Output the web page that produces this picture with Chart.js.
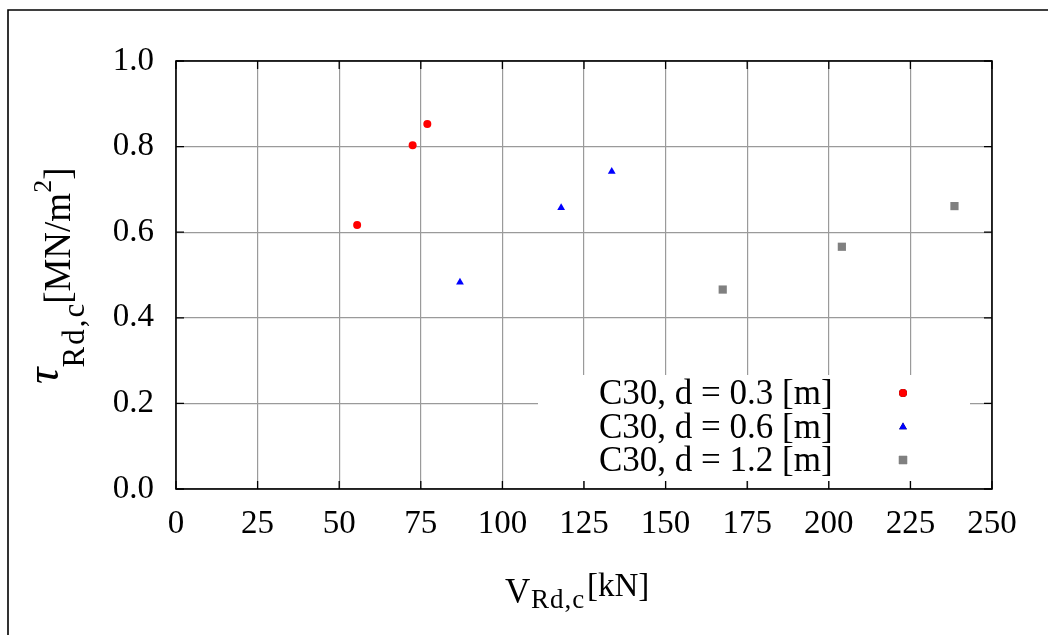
<!DOCTYPE html>
<html>
<head>
<meta charset="utf-8">
<script src="https://cdn.jsdelivr.net/npm/chart.js@4.4.0/dist/chart.umd.min.js"></script>
<style>
  html, body { margin: 0; padding: 0; background: #fff; }
  #wrap { width: 1048px; height: 635px; }
</style>
</head>
<body>
<div id="wrap"><canvas id="grafico"></canvas></div>
<script>
// dados
const serieRotulos = ['C30, d = 0.3 [m]', 'C30, d = 0.6 [m]', 'C30, d = 1.2 [m]'];
const vD03 = [55.5, 72.5, 77];
const tD03 = [0.617, 0.803, 0.853];
const vD06 = [87, 118, 133.5];
const tD06 = [0.483, 0.657, 0.742];
const vD12 = [167.5, 204, 238.5];
const tD12 = [0.466, 0.566, 0.661];
const xTicks = [0, 25, 50, 75, 100, 125, 150, 175, 200, 225, 250];
const yTicks = [0.0, 0.2, 0.4, 0.6, 0.8, 1.0];

const FONTE = '"Liberation Serif", "Times New Roman", serif';

function pontos(xs, ys) {
    return xs.map((x, i) => ({ x: x, y: ys[i] }));
}

const estilos = [
    { cor: '#ff0000', forma: 'circle', raio: 4 },
    { cor: '#0000ff', forma: 'triangle', raio: 4.5 },
    { cor: '#808080', forma: 'rect', raio: 5.8 }
];

// ------------------------------------------------------------
//  plugin: moldura, marcas, legenda e títulos dos eixos
// ------------------------------------------------------------
const extras = {
    id: 'extras',
    afterDraw(chart) {
        const ctx = chart.ctx;
        const a = chart.chartArea;
        const sx = chart.scales.x, sy = chart.scales.y;

        // legenda (caixa branca sobre a grade)
        ctx.save();
        ctx.fillStyle = '#fff';
        ctx.fillRect(538, 375, 432, 106);
        ctx.fillStyle = '#000';
        ctx.font = '35px ' + FONTE;
        ctx.textAlign = 'left';
        ctx.textBaseline = 'middle';
        const linhas = [393, 427, 460];
        chart.data.datasets.forEach((ds, i) => {
            ctx.fillText(ds.label, 599, linhas[i] + 2);
            Chart.helpers.drawPoint(ctx, {
                pointStyle: ds.pointStyle, radius: ds.pointRadius, borderWidth: 0
            }, 903, linhas[i]);
            ctx.fillStyle = ds.backgroundColor;
            ctx.fill();
            ctx.fillStyle = '#000';
        });
        ctx.restore();

        // marcas internas nos quatro lados
        ctx.save();
        ctx.strokeStyle = '#000';
        ctx.lineWidth = 1.3;
        ctx.beginPath();
        xTicks.forEach(v => {
            const px = sx.getPixelForValue(v);
            ctx.moveTo(px, a.bottom); ctx.lineTo(px, a.bottom - 8);
            ctx.moveTo(px, a.top); ctx.lineTo(px, a.top + 8);
        });
        yTicks.forEach(v => {
            const py = sy.getPixelForValue(v);
            ctx.moveTo(a.left, py); ctx.lineTo(a.left + 8, py);
            ctx.moveTo(a.right, py); ctx.lineTo(a.right - 8, py);
        });
        ctx.stroke();
        ctx.lineWidth = 1.6;
        ctx.strokeRect(a.left, a.top, a.right - a.left, a.bottom - a.top);

        // moldura externa
        ctx.beginPath();
        ctx.moveTo(8, 635); ctx.lineTo(8, 10); ctx.lineTo(1048, 10);
        ctx.stroke();
        ctx.restore();

        // título eixo x: V_Rd,c[kN]
        ctx.save();
        ctx.fillStyle = '#000';
        ctx.textAlign = 'left';
        ctx.textBaseline = 'alphabetic';
        ctx.font = '35px ' + FONTE;
        ctx.fillText('V', 505, 603);
        ctx.font = '27px ' + FONTE;
        ctx.letterSpacing = '1px';
        ctx.fillText('Rd,c', 531, 608);
        ctx.letterSpacing = '0px';
        ctx.font = '33px ' + FONTE;
        ctx.fillText('[kN]', 587, 596);
        ctx.restore();

        // título eixo y: tau_Rd,c[MN/m2] (rotacionado)
        const girado = (txt, fonte, bx, by, esp) => {
            ctx.save();
            ctx.translate(bx, by);
            ctx.rotate(-Math.PI / 2);
            ctx.font = fonte;
            ctx.letterSpacing = esp || '0px';
            ctx.fillStyle = '#000';
            ctx.textAlign = 'left';
            ctx.textBaseline = 'alphabetic';
            ctx.fillText(txt, 0, 0);
            const w = ctx.measureText(txt).width;
            ctx.restore();
            return w;
        };
        let y0 = 384;
        y0 -= girado('\u03c4', 'italic 46px ' + FONTE, 58, y0);
        y0 -= girado('Rd,c', '31px ' + FONTE, 84, y0, '2px');
        y0 -= girado('[MN/m', '37px ' + FONTE, 70, y0 + 2);
        y0 -= girado('2', '26px ' + FONTE, 51, y0 + 2);
        girado(']', '37px ' + FONTE, 70, y0 + 2);
    }
};

const ctx = document.getElementById('grafico');

new Chart(ctx, {
    type: 'scatter',
    data: {
        datasets: [
            { label: serieRotulos[0], data: pontos(vD03, tD03) },
            { label: serieRotulos[1], data: pontos(vD06, tD06) },
            { label: serieRotulos[2], data: pontos(vD12, tD12) }
        ].map((ds, i) => Object.assign(ds, {
            backgroundColor: estilos[i].cor,
            borderWidth: 0,
            pointStyle: estilos[i].forma,
            pointRadius: estilos[i].raio,
            pointHoverRadius: estilos[i].raio
        }))
    },
    options: {
        responsive: true,
        maintainAspectRatio: false,
        animation: false,
        layout: { padding: { left: 0, top: 61, right: 56, bottom: 0 } },
        plugins: {
            legend: { display: false },
            tooltip: { enabled: false }
        },
        scales: {
            x: {
                type: 'linear',
                min: 0,
                max: 250,
                afterBuildTicks: (s) => { s.ticks = xTicks.map(v => ({ value: v })); },
                afterFit: (s) => { s.height = 146; },
                ticks: {
                    color: '#000',
                    padding: 16,
                    maxRotation: 0,
                    font: { family: FONTE, size: 33 },
                    callback: (v) => String(v)
                },
                grid: { color: '#9a9a9a', lineWidth: 1.2, drawTicks: false },
                border: { display: false }
            },
            y: {
                type: 'linear',
                min: 0,
                max: 1,
                afterBuildTicks: (s) => { s.ticks = yTicks.map(v => ({ value: v })); },
                afterFit: (s) => { s.width = 176; },
                ticks: {
                    color: '#000',
                    padding: 22,
                    font: { family: FONTE, size: 33 },
                    callback: (v) => Number(v).toFixed(1)
                },
                grid: { color: '#9a9a9a', lineWidth: 1.2, drawTicks: false },
                border: { display: false }
            }
        }
    },
    plugins: [extras]
});
</script>
</body>
</html>
